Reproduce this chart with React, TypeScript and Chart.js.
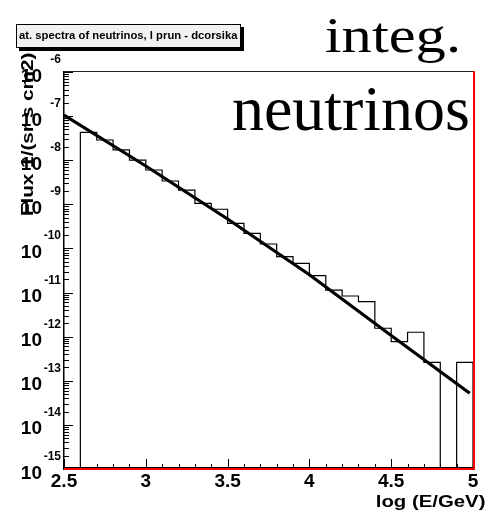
import React, { useEffect, useRef } from "react";
import { Chart, registerables } from "chart.js";

Chart.register(...registerables);

// ---------------- data ----------------
const binLowEdges = [
  2.5, 2.6, 2.7, 2.8, 2.9, 3.0, 3.1, 3.2, 3.3, 3.4, 3.5, 3.6, 3.7, 3.8, 3.9,
  4.0, 4.1, 4.2, 4.3, 4.4, 4.5, 4.6, 4.7, 4.8, 4.9,
];
const binHighEdge = 5.0;
const fluxValues = [
  0, 4.3e-8, 2.87e-8, 1.71e-8, 1.01e-8, 6.0e-9, 3.38e-9, 2.11e-9, 1.05e-9,
  7.74e-10, 3.72e-10, 2.2e-10, 1.26e-10, 6.5e-11, 4.6e-11, 2.41e-11, 1.14e-11,
  8.36e-12, 6.21e-12, 1.55e-12, 7.69e-13, 1.26e-12, 2.62e-13, 0, 2.62e-13,
];
const fitLogE = [2.5, 3.0, 3.5, 4.0, 4.5, 4.98];
const fitFlux = [1.06e-7, 7.4e-9, 4.65e-10, 2.54e-11, 1.06e-12, 5.2e-14];

const xMin = 2.5;
const xMax = 5.0;
const xMajorTicks = [2.5, 3, 3.5, 4, 4.5, 5];
const xTickLabels = ["2.5", "3", "3.5", "4", "4.5", "5"];
const yMin = 1e-15;
const yMax = 1e-6;
const yDecadeExponents = [-15, -14, -13, -12, -11, -10, -9, -8, -7, -6];
const yExponentLabels = ["-15", "-14", "-13", "-12", "-11", "-10", "-9", "-8", "-7", "-6"];
const yMinorMultipliers = [2, 3, 4, 5, 6, 7, 8, 9];

const titleText = "at. spectra of neutrinos, l prun - dcorsika";
const yAxisTitle = "Flux 1/(sr s cm2)";
const xAxisTitle = "log (E/GeV)";
const bigText1 = "integ.";
const bigText2 = "neutrinos";

const SANS = "'Liberation Sans', Arial, Helvetica, sans-serif";
const SERIF = "'Liberation Serif', 'Times New Roman', Times, serif";

function drawStretched(
  ctx: CanvasRenderingContext2D,
  text: string,
  font: string,
  x0: number,
  x1: number,
  baseline: number
) {
  ctx.save();
  ctx.font = font;
  ctx.textAlign = "left";
  ctx.textBaseline = "alphabetic";
  const m = ctx.measureText(text);
  const inkW = m.actualBoundingBoxLeft + m.actualBoundingBoxRight;
  const s = (x1 - x0) / inkW;
  ctx.translate(x0, baseline);
  ctx.scale(s, 1);
  ctx.fillStyle = "#000";
  ctx.fillText(text, m.actualBoundingBoxLeft, 0);
  ctx.restore();
}

const rootStyle = {
  id: "rootStyle",
  afterDraw(chart: any) {
    const { ctx, chartArea: a, scales } = chart;
    const xs = scales.x;
    const ys = scales.y;
    ctx.save();

    // ---- tick marks (drawn inward, ROOT style) ----
    ctx.strokeStyle = "#000";
    ctx.lineWidth = 1;
    ctx.beginPath();
    yDecadeExponents.forEach((e) => {
      const y = Math.round(ys.getPixelForValue(Math.pow(10, e))) + 0.5;
      ctx.moveTo(a.left, y);
      ctx.lineTo(a.left + 9, y);
      if (Math.pow(10, e) < yMax) {
        yMinorMultipliers.forEach((m) => {
          const ym = Math.round(ys.getPixelForValue(m * Math.pow(10, e))) + 0.5;
          ctx.moveTo(a.left, ym);
          ctx.lineTo(a.left + 5, ym);
        });
      }
    });
    xMajorTicks.forEach((v) => {
      const x = Math.round(xs.getPixelForValue(v)) + 0.5;
      ctx.moveTo(x, a.bottom);
      ctx.lineTo(x, a.bottom - 10);
    });
    binLowEdges.forEach((v) => {
      const x = Math.round(xs.getPixelForValue(v)) + 0.5;
      ctx.moveTo(x, a.bottom);
      ctx.lineTo(x, a.bottom - 5);
    });
    ctx.stroke();

    // ---- frame ----
    ctx.fillStyle = "#222";
    ctx.fillRect(a.left, a.top - 1, a.right - a.left, 1);
    ctx.fillStyle = "#000";
    ctx.fillRect(a.left - 1, a.top - 1, 1.5, a.bottom - a.top + 2);
    ctx.fillRect(a.left, a.bottom - 2, a.right - a.left, 1);
    ctx.fillStyle = "#ff0000";
    ctx.fillRect(a.left, a.bottom - 1, a.right - a.left + 2, 2);
    ctx.fillRect(a.right, a.top - 1, 2, a.bottom - a.top + 2);

    // ---- y tick labels: 10^n ----
    ctx.fillStyle = "#000";
    ctx.textBaseline = "alphabetic";
    yDecadeExponents.forEach((e, i) => {
      const y = ys.getPixelForValue(Math.pow(10, e));
      ctx.font = `bold 19px ${SANS}`;
      ctx.textAlign = "right";
      ctx.fillText("10", 42, y + 9.5);
      ctx.font = `bold 12px ${SANS}`;
      ctx.textAlign = "right";
      ctx.fillText(yExponentLabels[i], 61, y - 9);
    });

    // ---- axis titles ----
    ctx.save();
    ctx.translate(33, 215);
    ctx.rotate(-Math.PI / 2);
    drawStretched(ctx, yAxisTitle, `bold 16px ${SANS}`, 0, 162, 0);
    ctx.restore();
    drawStretched(ctx, xAxisTitle, `bold 16px ${SANS}`, 377, 485, 506.5);

    // ---- title box ----
    ctx.fillStyle = "#000";
    ctx.fillRect(19, 27, 225, 24);
    ctx.fillStyle = "#f2f2f2";
    ctx.fillRect(16, 24, 225, 24);
    ctx.strokeStyle = "#000";
    ctx.lineWidth = 1;
    ctx.strokeRect(16.5, 24.5, 224, 23);
    drawStretched(ctx, titleText, `bold 10px ${SANS}`, 19, 238, 39);

    // ---- big labels ----
    drawStretched(ctx, bigText1, `50px ${SERIF}`, 326, 458, 52);
    drawStretched(ctx, bigText2, `64px ${SERIF}`, 233, 468, 129.5);

    ctx.restore();
  },
};

export default function App() {
  const canvasRef = useRef<HTMLCanvasElement | null>(null);

  useEffect(() => {
    const canvas = canvasRef.current;
    if (!canvas) return;

    const histPoints: { x: number; y: number }[] = binLowEdges.map((e, i) => ({
      x: e,
      y: fluxValues[i] > 0 ? fluxValues[i] : yMin,
    }));
    const last = fluxValues[fluxValues.length - 1];
    histPoints.push({ x: binHighEdge, y: last > 0 ? last : yMin });
    histPoints.push({ x: binHighEdge, y: yMin });

    const fitPoints = fitLogE.map((x, i) => ({ x, y: fitFlux[i] }));

    const chart = new Chart(canvas, {
      type: "line",
      data: {
        datasets: [
          {
            label: "histogram",
            data: histPoints,
            stepped: "before",
            borderColor: "#000",
            borderWidth: 1.2,
            pointRadius: 0,
            fill: false,
          },
          {
            label: "fit",
            data: fitPoints,
            borderColor: "#000",
            borderWidth: 3.2,
            pointRadius: 0,
            tension: 0,
            fill: false,
          },
        ],
      },
      options: {
        responsive: false,
        animation: false,
        devicePixelRatio: 1,
        layout: { padding: { left: 0, right: 13, top: 72, bottom: 0 } },
        plugins: {
          legend: { display: false },
          tooltip: { enabled: false },
          title: { display: false },
        },
        scales: {
          x: {
            type: "linear",
            min: xMin,
            max: xMax,
            grid: { display: false, drawTicks: false },
            border: { display: false },
            afterBuildTicks: (scale: any) => {
              scale.ticks = xMajorTicks.map((v) => ({ value: v }));
            },
            afterFit: (scale: any) => {
              scale.height = 45;
            },
            ticks: {
              autoSkip: false,
              maxRotation: 0,
              padding: 1,
              color: "#000",
              font: { family: SANS, weight: "bold", size: 19 },
              callback: (_v: any, i: number) => xTickLabels[i],
            },
          },
          y: {
            type: "logarithmic",
            min: yMin,
            max: yMax,
            grid: { display: false, drawTicks: false },
            border: { display: false },
            ticks: { display: false },
            afterFit: (scale: any) => {
              scale.width = 64;
            },
          },
        },
      } as any,
      plugins: [rootStyle],
    });

    return () => chart.destroy();
  }, []);

  return (
    <div style={{ position: "absolute", left: 0, top: 0, width: 486, height: 514, background: "#fff" }}>
      <canvas ref={canvasRef} width={486} height={514} style={{ display: "block" }} />
    </div>
  );
}
